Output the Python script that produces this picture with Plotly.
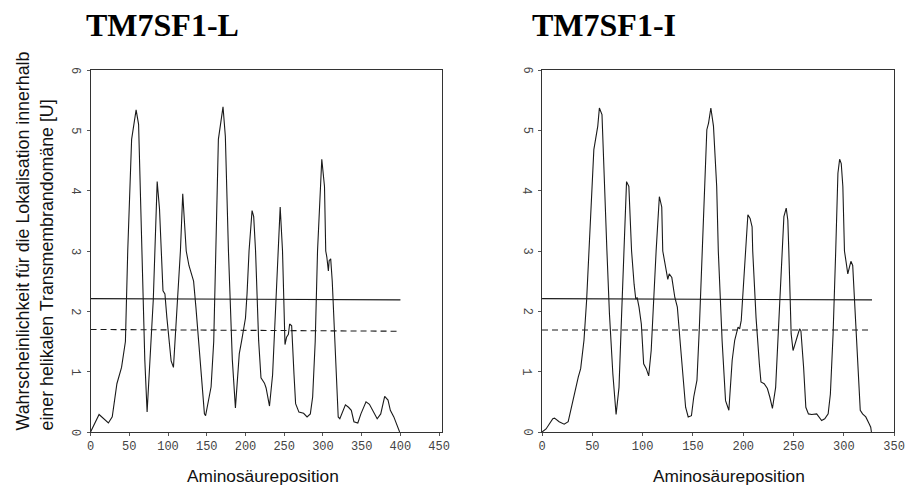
import plotly.graph_objects as go

# ---- data: TM7SF1-L (hydrophobicity / TM probability profile) ----
pos_L = [0, 11, 23, 28, 34, 40, 45, 48, 53, 58.8, 62, 66, 70, 73, 77, 81, 86, 89, 93.5, 96, 98.5, 102,
         104, 107, 112, 116, 119, 123.5, 127, 129, 133, 136, 142, 147, 148.5, 152.6, 155.6, 159, 162,
         165, 171, 174, 178, 183, 187, 189.4, 192, 195, 199, 200, 202, 204.6, 208.5, 210.6, 213, 217,
         220, 224.5, 226.6, 230, 231, 235, 239, 242.7, 244.8, 247.8, 250, 251, 253, 255.4, 257, 259.6,
         262.6, 264.7, 269, 275, 279.5, 283.7, 286.7, 290, 293, 298.5, 302, 303.6, 305, 307, 308, 310,
         312, 315.4, 319.7, 321.8, 326, 329, 333, 336.6, 340, 345, 349, 355.6, 360, 364, 370, 374.6,
         379.7, 384, 387, 391.5, 396, 399]
val_L = [0.0, 0.29, 0.15, 0.25, 0.8, 1.07, 1.5, 3.0, 4.85, 5.34, 5.1, 3.0, 1.2, 0.33, 1.2, 2.2, 4.15, 3.7,
         2.34, 2.29, 1.9, 1.35, 1.18, 1.07, 2.07, 3.0, 3.95, 3.0, 2.76, 2.67, 2.5, 2.07, 1.07, 0.3, 0.27,
         0.58, 0.75, 1.5, 3.0, 4.85, 5.39, 4.9, 3.0, 1.2, 0.4, 0.85, 1.3, 1.51, 1.82, 1.89, 2.29, 3.0,
         3.67, 3.57, 3.0, 1.51, 0.9, 0.81, 0.73, 0.46, 0.43, 0.95, 2.07, 3.0, 3.73, 3.0, 1.5, 1.45, 1.57,
         1.62, 1.79, 1.76, 0.96, 0.47, 0.33, 0.31, 0.25, 0.3, 0.58, 1.5, 3.0, 4.52, 4.07, 3.0, 2.9, 2.67,
         2.84, 2.87, 2.5, 1.5, 0.25, 0.22, 0.36, 0.45, 0.41, 0.36, 0.17, 0.15, 0.3, 0.5, 0.46, 0.36, 0.22,
         0.3, 0.59, 0.53, 0.36, 0.25, 0.08, 0.0]

# ---- data: TM7SF1-I ----
pos_I = [0, 4, 10.7, 12.4, 17, 22, 26, 29.3, 32.6, 36, 38.4, 41.7, 44.3, 46.6, 51.5, 55.4, 57, 59.6,
         61.2, 64.5, 67, 70.4, 73.6, 76.5, 79, 81.4, 84, 86.3, 89, 91.5, 93.2, 94.5, 96.4, 98.7, 101,
         103.6, 106, 108.5, 111, 113.4, 116.6, 119, 120, 123, 125, 126.4, 129, 132, 134.5, 137.7, 140,
         142.7, 145.3, 148.5, 150.8, 154, 156.4, 159, 163.8, 165.5, 167.8, 170.4, 173.6, 175.2, 179,
         182.4, 185.7, 189, 191.5, 194.8, 196.4, 198, 200, 202, 204.6, 206.8, 208.8, 209.4, 212.7, 216,
         217.6, 220.8, 224, 226.4, 229, 232.2, 235.5, 238.8, 240.4, 242.7, 244.3, 245.3, 247.6, 249.5,
         251.8, 254, 256, 257.3, 260, 262.2, 264.8, 268, 273, 277.9, 281, 284.4, 286.6, 289.3, 291.9,
         294.1, 295.8, 297.4, 299, 300.6, 302.3, 303.9, 305.5, 307, 308.8, 311, 313.7, 316.3, 318.6,
         321.8, 325, 326.7, 327.4]
val_I = [0.0, 0.05, 0.22, 0.23, 0.17, 0.13, 0.17, 0.41, 0.69, 0.91, 1.05, 1.52, 2.18, 3.0, 4.68, 5.07,
         5.37, 5.26, 4.4, 3.0, 1.96, 0.96, 0.29, 0.74, 1.9, 3.0, 4.15, 4.07, 3.0, 2.45, 2.2, 2.23, 2.07,
         1.79, 1.13, 1.05, 0.93, 1.35, 2.34, 3.0, 3.9, 3.73, 3.0, 2.67, 2.53, 2.62, 2.56, 2.23, 2.07,
         1.41, 0.96, 0.41, 0.25, 0.27, 0.58, 0.86, 1.74, 3.0, 5.01, 5.12, 5.37, 5.07, 4.07, 3.0, 1.51,
         0.52, 0.36, 1.19, 1.52, 1.74, 1.71, 1.85, 2.34, 3.0, 3.6, 3.54, 3.4, 3.0, 1.9, 1.13, 0.83, 0.8,
         0.72, 0.58, 0.39, 0.74, 1.9, 3.0, 3.57, 3.71, 3.51, 3.0, 1.63, 1.35, 1.46, 1.6, 1.71, 1.68,
         1.07, 0.41, 0.3, 0.29, 0.3, 0.19, 0.22, 0.3, 0.63, 1.63, 3.0, 4.29, 4.52, 4.45, 4.07, 3.0, 2.81,
         2.62, 2.73, 2.83, 2.76, 2.07, 1.07, 0.36, 0.3, 0.25, 0.14, 0.08, 0.0]

# threshold lines (start / end of each)
thr_x_L = [0, 400]
thr_solid_L = [2.21, 2.19]
thr_dash_L = [1.70, 1.67]
thr_x_I = [0, 328]
thr_solid_I = [2.21, 2.19]
thr_dash_I = [1.69, 1.69]

titles = ["TM7SF1-L", "TM7SF1-I"]
x_title = "Aminosäureposition"
y_title = "Wahrscheinlichkeit für die Lokalisation innerhalb<br>einer helikalen Transmembrandomäne [U]"
xticks_L = [0, 50, 100, 150, 200, 250, 300, 350, 400, 450]
xticks_I = [0, 50, 100, 150, 200, 250, 300, 350]
yticks = [0, 1, 2, 3, 4, 5, 6]

W, H = 915, 487
curve_col = "#1a1a1a"

fig = go.Figure()
for xs, ys, xa, ya in [(pos_L, val_L, "x", "y"), (pos_I, val_I, "x2", "y2")]:
    fig.add_trace(go.Scatter(x=xs, y=ys, mode="lines", line=dict(color=curve_col, width=1.1),
                             xaxis=xa, yaxis=ya, showlegend=False, hoverinfo="skip"))
for tx, ts, td, xa, ya in [(thr_x_L, thr_solid_L, thr_dash_L, "x", "y"),
                           (thr_x_I, thr_solid_I, thr_dash_I, "x2", "y2")]:
    fig.add_trace(go.Scatter(x=tx, y=ts, mode="lines", line=dict(color=curve_col, width=1.1),
                             xaxis=xa, yaxis=ya, showlegend=False, hoverinfo="skip"))
    fig.add_trace(go.Scatter(x=tx, y=td, mode="lines",
                             line=dict(color=curve_col, width=1.1, dash="6px,4px"),
                             xaxis=xa, yaxis=ya, showlegend=False, hoverinfo="skip"))

tick_font = dict(family="Liberation Mono, Courier New, monospace", size=12, color="#444")
ax_common = dict(showgrid=False, zeroline=False, showline=True, mirror=True,
                 linecolor="#333", linewidth=1, ticks="outside", ticklen=3,
                 tickcolor="#555", tickfont=tick_font)

ybot, ytop = (H - 432) / H, (H - 70) / H
fig.update_layout(
    width=W, height=H, margin=dict(l=0, r=0, t=0, b=0),
    paper_bgcolor="white", plot_bgcolor="white",
    xaxis=dict(domain=[88 / W, 445 / W], range=[0, 453.3], tickvals=xticks_L, anchor="y", **ax_common),
    yaxis=dict(domain=[ybot, ytop], range=[0, 6], tickvals=yticks, showticklabels=False, anchor="x",
               **ax_common),
    xaxis2=dict(domain=[547 / W, 905 / W], range=[0, 350], tickvals=xticks_I, anchor="y2",
                **ax_common),
    yaxis2=dict(domain=[ybot, ytop], range=[0, 6], tickvals=yticks, showticklabels=False, anchor="x2",
                **ax_common),
)

# y tick labels, rotated 90 deg clockwise as in the original
for xd, yr in [("x domain", "y"), ("x2 domain", "y2")]:
    for v in yticks:
        fig.add_annotation(text=str(v), xref=xd, yref=yr, x=0, y=v, xshift=-15.5,
                           textangle=90, showarrow=False, xanchor="center", yanchor="middle",
                           font=tick_font)

title_font = dict(family="Liberation Serif, Times New Roman, serif", size=32, color="black")
xlabel_font = dict(family="Liberation Sans, Arial, sans-serif", size=17.3, color="#111")
ylabel_font = dict(family="Liberation Sans, Arial, sans-serif", size=17.8, color="#111")
ann = [
    dict(text="<b>%s</b>" % titles[0], x=161.5 / W, y=(H - 25) / H, font=title_font),
    dict(text="<b>%s</b>" % titles[1], x=610.5 / W, y=(H - 25) / H, font=title_font),
    dict(text=x_title, x=263 / W, y=(H - 476) / H, font=xlabel_font),
    dict(text=x_title, x=737 / W, y=(H - 476) / H, font=xlabel_font),
    dict(text=y_title, x=32 / W, y=(H - 241) / H, font=ylabel_font, textangle=-90, align="left"),
]
for a in ann:
    fig.add_annotation(xref="paper", yref="paper", showarrow=False,
                       xanchor="center", yanchor="middle", **a)

fig.write_html("out.html", config={"displayModeBar": False},
               post_script="document.body.style.margin='0';")
